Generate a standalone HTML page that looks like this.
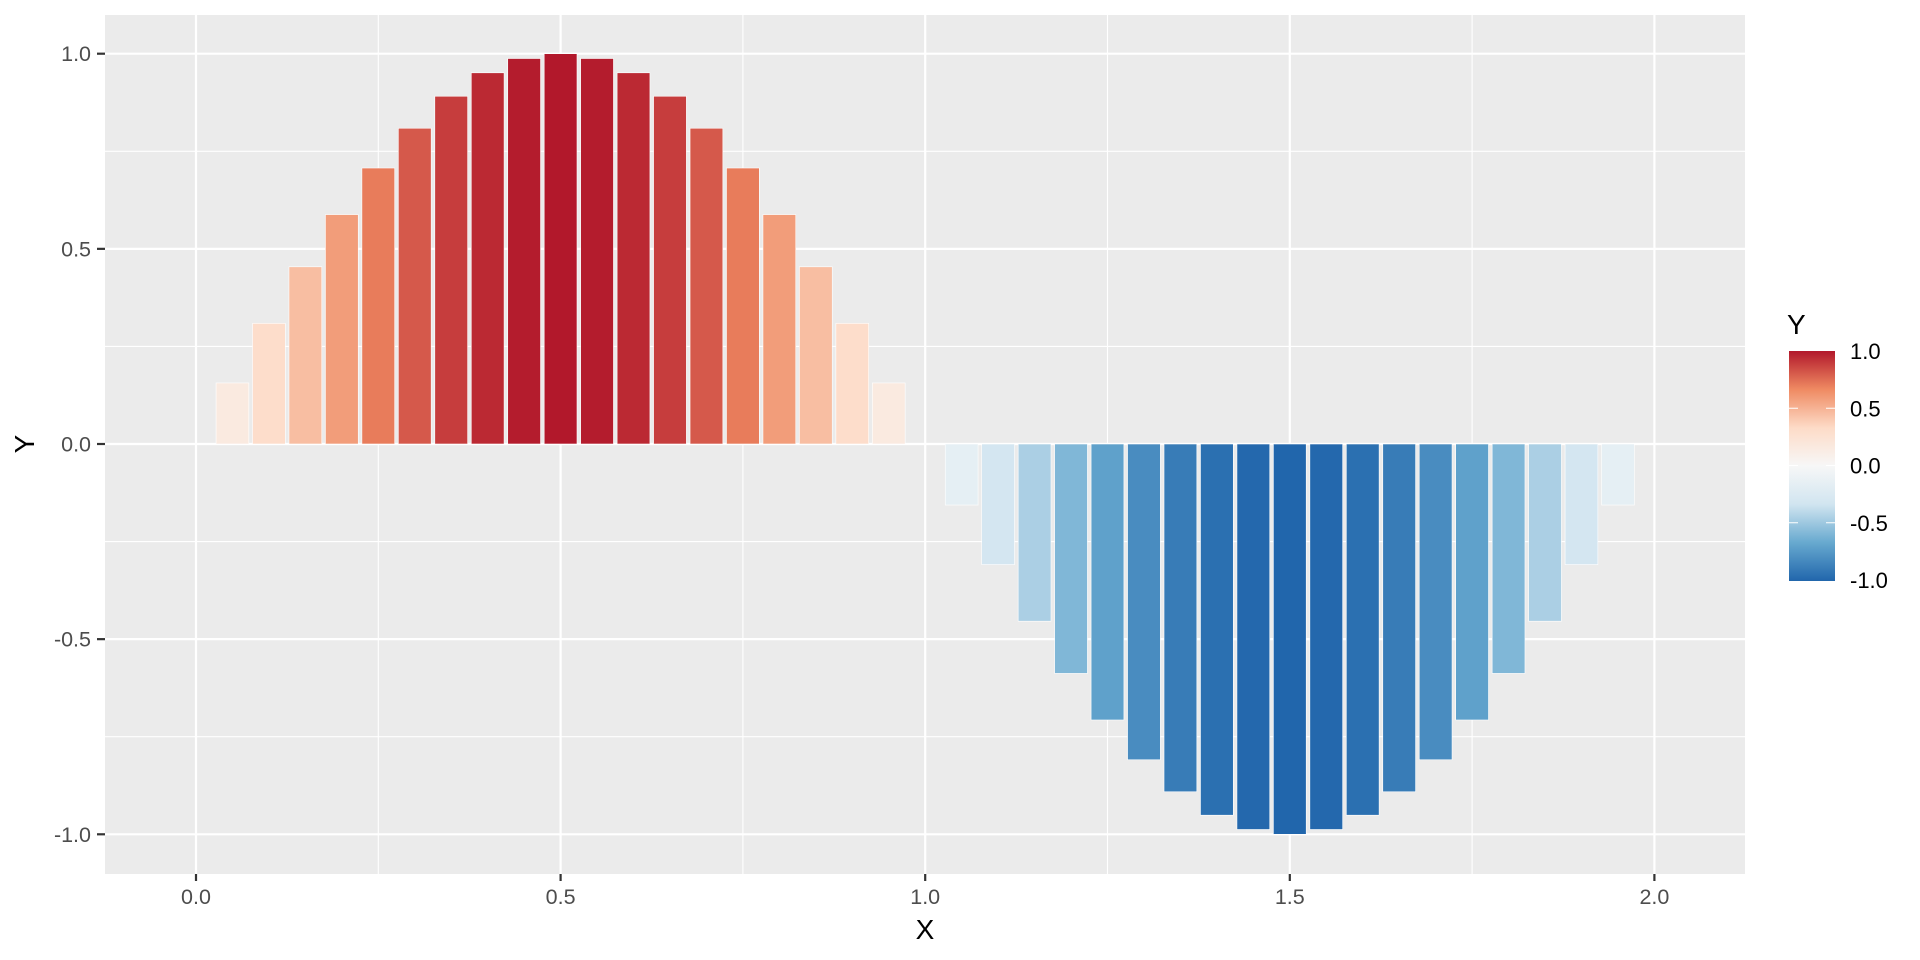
<!DOCTYPE html>
<html><head><meta charset="utf-8"><style>
html,body{margin:0;padding:0;background:#fff;width:1920px;height:960px;overflow:hidden}
text{font-family:"Liberation Sans",sans-serif}
</style></head><body>
<svg id="s" width="1920" height="960" xmlns="http://www.w3.org/2000/svg">
<defs>
<linearGradient id="lg" x1="0" y1="0" x2="0" y2="1">
<stop offset="0" stop-color="#b2182b"/>
<stop offset="0.1667" stop-color="#ef8a62"/>
<stop offset="0.3333" stop-color="#fddbc7"/>
<stop offset="0.5" stop-color="#f7f7f7"/>
<stop offset="0.6667" stop-color="#d1e5f0"/>
<stop offset="0.8333" stop-color="#67a9cf"/>
<stop offset="1" stop-color="#2166ac"/>
</linearGradient>
</defs>
<rect x="105" y="15" width="1640" height="859" fill="#ebebeb"/>
<g id="grid"></g>
<g id="bars"></g>
<g id="axes" fill="#4d4d4d" font-size="21.5"></g>
<text x="34" y="444" font-size="28" text-anchor="middle" fill="#000" transform="rotate(-90 34 444)">Y</text>
<text x="925" y="939" font-size="28" text-anchor="middle" fill="#000">X</text>
<text x="1787" y="334" font-size="28" fill="#000">Y</text>
<rect x="1789" y="351" width="46" height="230" fill="url(#lg)"/>
<g id="leg" font-size="22" fill="#000"></g>
</svg>
<script>
var NS="http://www.w3.org/2000/svg";
function el(p,t,a,txt){var e=document.createElementNS(NS,t);for(var k in a)e.setAttribute(k,a[k]);if(txt!==undefined)e.textContent=txt;document.getElementById(p).appendChild(e);}
function X(v){return 196+v*729.2;}
function Y(v){return 444-v*390.3;}
var L=105,R=1745,T=15,B=874;
[-0.75,-0.25,0.25,0.75].forEach(function(v){el("grid","line",{x1:L,x2:R,y1:Y(v),y2:Y(v),stroke:"#fff","stroke-width":1.1});});
[0.25,0.75,1.25,1.75].forEach(function(v){el("grid","line",{y1:T,y2:B,x1:X(v),x2:X(v),stroke:"#fff","stroke-width":1.1});});
[-1,-0.5,0,0.5,1].forEach(function(v){el("grid","line",{x1:L,x2:R,y1:Y(v),y2:Y(v),stroke:"#fff","stroke-width":2.2});
 el("axes","line",{x1:97,x2:105,y1:Y(v),y2:Y(v),stroke:"#333","stroke-width":2.2});
 el("axes","text",{x:91,y:Y(v)+7.5,"text-anchor":"end"},v.toFixed(1));});
[0,0.5,1,1.5,2].forEach(function(v){el("grid","line",{y1:T,y2:B,x1:X(v),x2:X(v),stroke:"#fff","stroke-width":2.2});
 el("axes","line",{y1:874,y2:881,x1:X(v),x2:X(v),stroke:"#333","stroke-width":2.2});
 el("axes","text",{x:X(v),y:904,"text-anchor":"middle"},v.toFixed(1));});
var stops=[[178,24,43],[239,138,98],[253,219,199],[247,247,247],[209,229,240],[103,169,207],[33,102,172]];
function col(y){var t=(1-y)/2*6;var i=Math.min(5,Math.floor(t));var f=t-i;var a=stops[i],b=stops[i+1];
 return "rgb("+a.map(function(c,j){return Math.round(c+(b[j]-c)*f);}).join(",")+")";}
for(var k=1;k<40;k++){if(k==20)continue;var x=k*0.05;var y=Math.sin(Math.PI*x);
 var x0=X(x)-16.4,w=32.8;var y0=Math.min(Y(y),Y(0)),h=Math.abs(Y(y)-Y(0));
 el("bars","rect",{x:x0,y:y0,width:w,height:h,fill:col(y),stroke:"#fff","stroke-width":0.6});}
[1,0.5,0,-0.5,-1].forEach(function(v){var yy=465.5-v*114.5;
 el("leg","text",{x:1850,y:yy+8},v.toFixed(1));
 if(Math.abs(v)<1){el("leg","line",{x1:1789,x2:1798,y1:yy,y2:yy,stroke:"#fff","stroke-width":1});
 el("leg","line",{x1:1826,x2:1835,y1:yy,y2:yy,stroke:"#fff","stroke-width":1});}});
</script>
</body></html>
